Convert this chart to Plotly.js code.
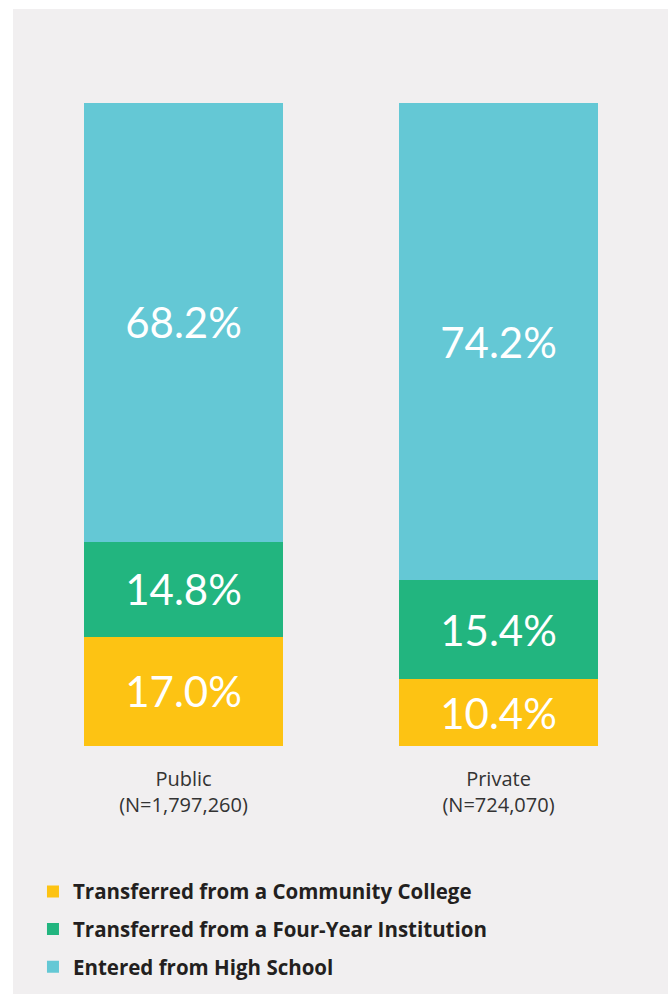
<!DOCTYPE html>
<html>
<head>
<meta charset="utf-8">
<script src="https://cdn.plot.ly/plotly-3.0.1.min.js"></script>
<style>
  html, body { margin: 0; padding: 0; background: #ffffff; }
  #chart { position: absolute; left: 13px; top: 9px; width: 655px; height: 985px; }
</style>
</head>
<body>
<div id="chart"></div>
<script>
const categories = ['Public<br>(N=1,797,260)', 'Private<br>(N=724,070)'];
const seriesNames = ['Transferred from a Community College', 'Transferred from a Four-Year Institution', 'Entered from High School'];
const communityCollege = [17.0, 10.4];
const fourYear = [14.8, 15.4];
const highSchool = [68.2, 74.2];
const colors = ['#FDC313', '#22B57F', '#64C8D5'];

const seriesValues = [communityCollege, fourYear, highSchool];
const traces = seriesValues.map((vals, i) => ({
  type: 'bar',
  name: seriesNames[i],
  x: categories,
  y: vals,
  marker: { color: colors[i], line: { width: 0 } },
  texttemplate: '%{y:.1f}%',
  textposition: 'inside',
  insidetextanchor: 'middle',
  textangle: 0,
  constraintext: 'none',
  textfont: { family: 'Lato, sans-serif', size: 42, weight: 400, color: '#ffffff' },
  legendgroup: 'g' + i,
  hoverinfo: 'skip'
}));

const layout = {
  width: 655,
  height: 985,
  paper_bgcolor: '#F1EFF0',
  plot_bgcolor: '#F1EFF0',
  barmode: 'stack',
  bargap: 0.368,
  margin: { l: 13, r: 12, t: 94, b: 248, autoexpand: false },
  font: { family: 'Lato, sans-serif', color: '#333333' },
  xaxis: {
    showgrid: false, zeroline: false, showline: false,
    ticks: '', tickangle: 0, ticklabelstandoff: 19,
    tickfont: { family: 'Open Sans, sans-serif', size: 20, color: '#333333' },
    range: [-0.5, 1.5], automargin: false
  },
  yaxis: {
    range: [0, 100], visible: false, showgrid: false, zeroline: false, automargin: false
  },
  showlegend: true,
  legend: {
    xref: 'container', yref: 'container',
    x: 0.0305, y: 0.1243, xanchor: 'left', yanchor: 'top',
    orientation: 'v',
    traceorder: 'grouped',
    tracegroupgap: 8,
    itemwidth: 30,
    bgcolor: 'rgba(0,0,0,0)',
    font: { family: 'Open Sans, sans-serif', size: 20.5, color: '#231F20', weight: 'bold' }
  }
};

Plotly.newPlot('chart', traces, layout, { displayModeBar: false, staticPlot: true });
</script>
</body>
</html>
